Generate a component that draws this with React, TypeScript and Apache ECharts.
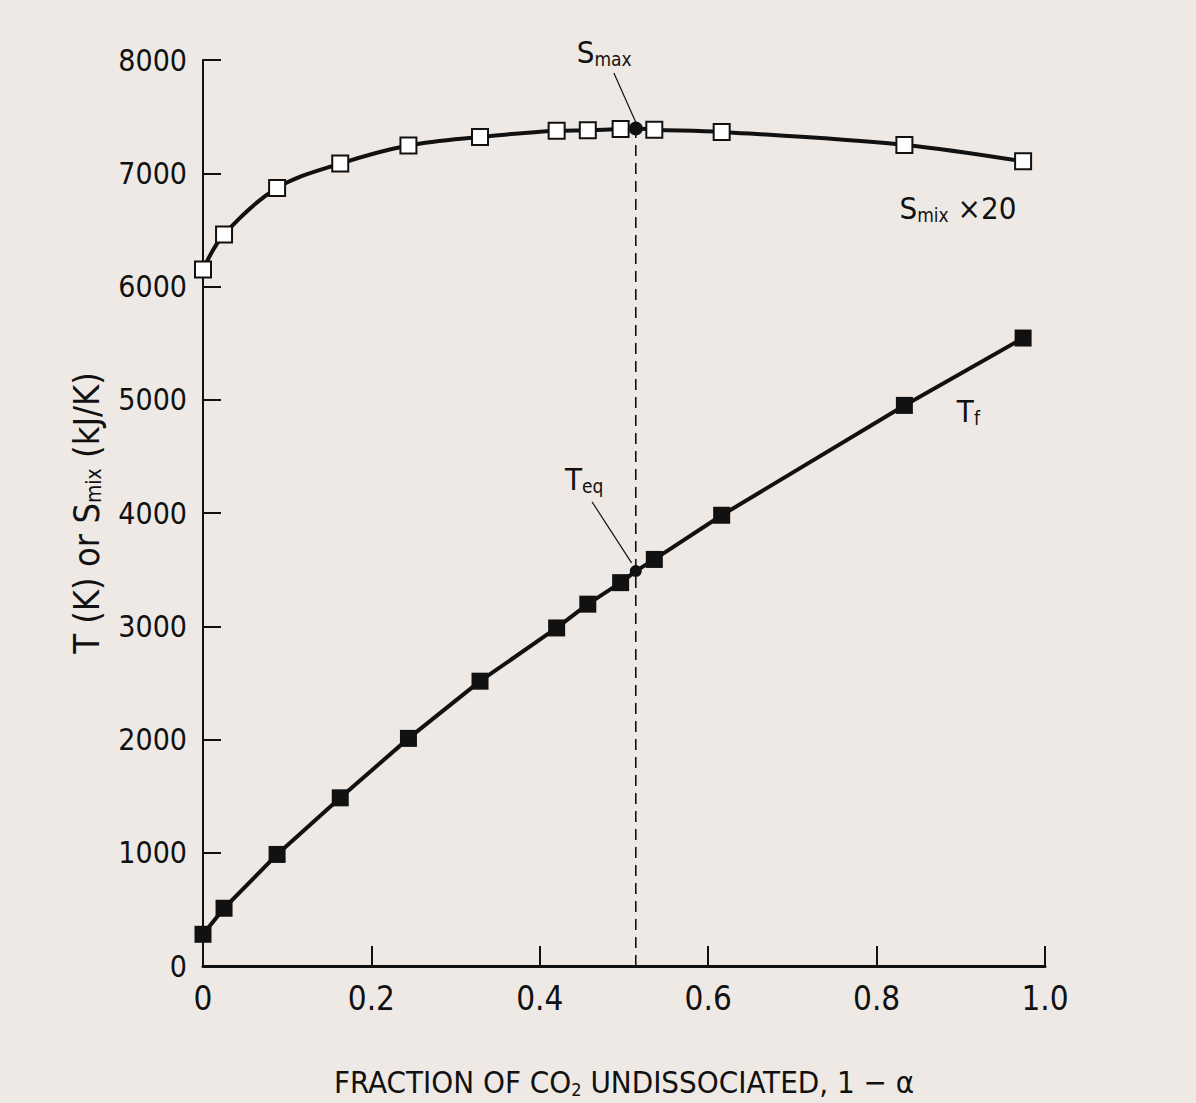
import React, { useEffect, useRef } from "react";
import * as echarts from "echarts";

// Fraction of CO2 undissociated, 1 - alpha (shared by both curves)
const fraction = [0, 0.025, 0.088, 0.163, 0.244, 0.329, 0.42, 0.457, 0.496, 0.536, 0.616, 0.833, 0.974];
// Entropy of mixing x 20 (kJ/K)
const sMix = [6150, 6460, 6870, 7085, 7245, 7320, 7375, 7380, 7390, 7385, 7365, 7250, 7105];
// Final temperature (K)
const tFinal = [280, 510, 985, 1485, 2010, 2515, 2985, 3195, 3385, 3590, 3980, 4950, 5545];
// Equilibrium point
const eqFraction = 0.514;
const sMaxValue = 7395;
const tEqValue = 3487;

const xTickValues = [0, 0.2, 0.4, 0.6, 0.8, 1.0];
const yTickValues = [0, 1000, 2000, 3000, 4000, 5000, 6000, 7000, 8000];

const FONT = "'Liberation Sans Narrow', 'DejaVu Sans Condensed', 'Liberation Sans', sans-serif";
const INK = "#111111";

const richBase = {
  b: { fontSize: 31, fontFamily: FONT, color: INK, lineHeight: 32, textBorderWidth: 0 },
  s: { fontSize: 19, fontFamily: FONT, color: INK, lineHeight: 10, verticalAlign: "bottom", textBorderWidth: 0 },
};

const annotations = [
  { text: "{b|S}{s|max}", x: 0.4765, y: 8068 },
  { text: "{b|T}{s|eq}", x: 0.4528, y: 4299 },
  { text: "{b|S}{s|mix}{b| \u00d720}", x: 0.8966, y: 6693 },
  { text: "{b|T}{s|f}", x: 0.909, y: 4900 },
];

const pointers = [
  [[0.488, 7885], [0.514, 7450]],
  [[0.462, 4099], [0.509, 3560]],
];

function insertPoint(xs: number[], ys: number[], px: number, py: number, special: any) {
  const items: any[] = [];
  let inserted = false;
  xs.forEach((x, i) => {
    if (!inserted && px < x) {
      items.push({ value: [px, py], ...special });
      inserted = true;
    }
    items.push({ value: [x, ys[i]] });
  });
  if (!inserted) items.push({ value: [px, py], ...special });
  return items;
}

export default function App() {
  const ref = useRef<HTMLDivElement>(null);
  useEffect(() => {
    if (!ref.current) return;
    const chart = echarts.init(ref.current, undefined, { renderer: "svg" });

    const sData = insertPoint(fraction, sMix, eqFraction, sMaxValue, {
      symbol: "circle",
      symbolSize: 12,
      itemStyle: { color: INK, borderColor: INK },
    });
    const tData = insertPoint(fraction, tFinal, eqFraction, tEqValue, {
      symbol: "circle",
      symbolSize: 12,
      itemStyle: { color: INK, borderColor: INK },
    });

    const option: any = {
      animation: false,
      backgroundColor: "#EEE9E4",
      grid: { left: 203, right: 151, top: 60, bottom: 124, containLabel: false },
      xAxis: {
        type: "value",
        min: 0,
        max: 1,
        interval: 0.2,
        name: "{n|FRACTION OF CO}{s|2}{n| UNDISSOCIATED, 1 \u2212 \u03b1}",
        nameLocation: "middle",
        nameGap: 100,
        nameTextStyle: {
          rich: {
            n: { fontSize: 31, fontFamily: FONT, color: INK, lineHeight: 32 },
            s: { fontSize: 18, fontFamily: FONT, color: INK, lineHeight: 8, verticalAlign: "bottom" },
          },
        },
        axisLine: { show: true, onZero: false, lineStyle: { color: INK, width: 3 } },
        axisTick: { show: true, inside: true, length: 20, lineStyle: { color: INK, width: 2 } },
        splitLine: { show: false },
        axisLabel: {
          margin: 16,
          fontSize: 33,
          fontFamily: FONT,
          color: INK,
          formatter: (v: number) => {
            const i = xTickValues.findIndex((t) => Math.abs(t - v) < 1e-9);
            if (i < 0) return "";
            return i === 0 ? "0" : xTickValues[i].toFixed(1);
          },
        },
      },
      yAxis: {
        type: "value",
        min: 0,
        max: 8000,
        interval: 1000,
        name: "{n|T (K) or S}{s|mix}{n| (kJ/K)}",
        nameLocation: "middle",
        nameGap: 99,
        nameTextStyle: {
          rich: {
            n: { fontSize: 36, fontFamily: FONT, color: INK, lineHeight: 36 },
            s: { fontSize: 21, fontFamily: FONT, color: INK, lineHeight: 10, verticalAlign: "bottom" },
          },
        },
        axisLine: { show: true, onZero: false, lineStyle: { color: INK, width: 2 } },
        axisTick: { show: true, inside: true, length: 18, lineStyle: { color: INK, width: 2 } },
        splitLine: { show: false },
        axisLabel: {
          margin: 16,
          fontSize: 30,
          fontFamily: FONT,
          color: INK,
          formatter: (v: number) => (yTickValues.includes(v) ? String(v) : ""),
        },
      },
      series: [
        {
          name: "dashed",
          type: "line",
          data: [[eqFraction, 0], [eqFraction, sMaxValue]],
          symbol: "none",
          lineStyle: { color: INK, width: 1.6, type: [11, 7] },
          z: 1,
          silent: true,
        },
        ...pointers.map((p, i) => ({
          name: "pointer" + i,
          type: "line",
          data: p,
          symbol: "none",
          lineStyle: { color: INK, width: 1.2 },
          z: 1,
          silent: true,
        })),
        {
          name: "Smix",
          type: "line",
          data: sData,
          smooth: 0.35,
          symbol: "rect",
          symbolSize: 16,
          showAllSymbol: true,
          lineStyle: { color: INK, width: 4 },
          itemStyle: { color: "#ffffff", borderColor: INK, borderWidth: 2 },
          z: 3,
        },
        {
          name: "Tf",
          type: "line",
          data: tData,
          symbol: "rect",
          symbolSize: 17,
          showAllSymbol: true,
          lineStyle: { color: INK, width: 4 },
          itemStyle: { color: INK, borderColor: INK, borderWidth: 0 },
          z: 3,
        },
        {
          name: "labels",
          type: "scatter",
          clip: false,
          symbolSize: 0,
          silent: true,
          data: annotations.map((a) => ({
            value: [a.x, a.y],
            label: {
              show: true,
              position: "inside",
              formatter: a.text,
              color: INK,
              textBorderWidth: 0,
              opacity: 1,
              rich: richBase,
            },
          })),
          itemStyle: { opacity: 1 },
          z: 5,
        },
      ],
    };
    chart.setOption(option);
    return () => chart.dispose();
  }, []);

  return (
    <div
      ref={ref}
      style={{ position: "fixed", left: 0, top: 0, width: 1196, height: 1103 }}
    />
  );
}
